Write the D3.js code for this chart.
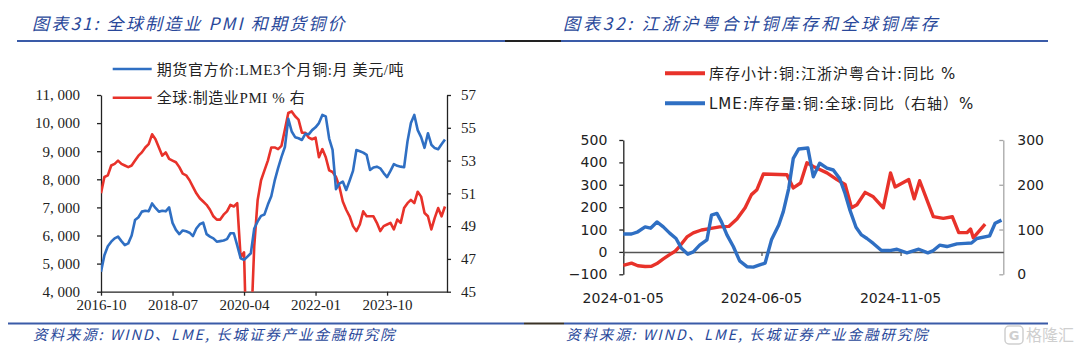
<!DOCTYPE html>
<html><head><meta charset="utf-8">
<script src="https://cdn.jsdelivr.net/npm/d3@7"></script>
<style>body{margin:0;background:#fff;} svg{display:block}</style>
</head><body><svg id="c" width="1080" height="359"></svg>
<script>
// ---------- Left chart data (monthly, index 0 = first month on axis) ----------
const leftTickLabels = ["2016-10","2018-07","2020-04","2022-01","2023-10"];
const leftTickIdx = [0,21,42,63,84];
const copperPrice = [
4710,5300,5620,5780,5900,5960,5800,5660,5720,6000,
6550,6650,6850,6880,6860,7140,6980,6850,6880,6860,
7000,6450,6200,6050,6180,6150,6100,5980,6250,6400,
6460,6050,5960,5900,5780,5800,5820,5870,6080,6080,
5650,5190,5130,5250,5370,6250,6500,6700,6750,7100,
7400,7950,8400,8800,9150,10150,9700,9500,9460,9400,
9620,9600,9750,9850,10000,10290,10240,9450,9050,7650,
7850,7920,7620,7950,8300,9040,9000,8950,8870,8330,
8420,8450,8390,8220,8080,8300,8540,8480,8450,8430,
9350,10000,10290,9750,9500,9120,9640,9230,9110,9070,
9250,9420];
const globalPMI = [
51.0,52.0,52.1,52.7,52.8,53.0,52.8,52.7,52.6,52.7,
53.0,53.3,53.5,53.8,54.0,54.6,54.3,53.8,53.3,53.5,
53.1,53.0,52.9,52.6,52.2,52.1,51.8,51.4,51.0,50.7,
50.5,50.3,50.0,49.6,49.4,49.4,49.7,49.9,50.3,50.2,
50.4,47.1,47.4,39.6,42.4,47.8,50.6,51.8,52.4,53.0,
53.8,53.8,53.7,53.9,54.9,55.9,56.0,55.7,55.5,54.7,
54.7,54.4,54.3,54.4,53.2,53.7,53.2,52.4,52.3,52.0,
51.4,50.5,50.0,49.6,49.0,48.7,49.1,49.9,49.6,49.6,
49.6,49.2,48.7,49.0,49.1,49.2,48.8,49.4,49.2,50.1,
50.4,50.6,50.4,51.1,50.8,49.8,49.6,48.8,49.5,50.1,
49.6,50.2];
const leftYTicks = [4000,5000,6000,7000,8000,9000,10000,11000];
const rightYTicks = [45,47,49,51,53,55,57];

// ---------- Right chart data ----------
const rightTickDates = ["2024-01-05","2024-06-05","2024-11-05"];
const redDates = ["2024-01-05","2024-01-14","2024-01-21","2024-01-29","2024-02-05","2024-02-11","2024-02-18","2024-02-25","2024-03-02","2024-03-07",
"2024-03-15","2024-03-22","2024-03-31","2024-04-09","2024-04-20","2024-04-30","2024-05-09","2024-05-18","2024-05-25","2024-05-31",
"2024-06-07","2024-07-03","2024-07-10","2024-07-18","2024-07-25","2024-08-01","2024-08-16","2024-08-27","2024-09-05","2024-09-12",
"2024-09-18","2024-09-27","2024-10-06","2024-10-17","2024-10-25","2024-10-30","2024-11-14","2024-11-20","2024-11-26","2024-12-11",
"2024-12-22","2025-01-01","2025-01-08","2025-01-17","2025-01-21","2025-01-24","2025-02-06"];
const redValues = [-60,-50,-62,-65,-64,-52,-31,-12,3,25,
67,85,98,104,112,114,147,197,256,278,
348,345,286,308,398,382,353,323,301,197,
211,266,246,197,353,290,323,237,318,158,
150,157,86,86,102,63,124];
const blueDates = ["2024-01-05","2024-01-14","2024-01-21","2024-01-29","2024-02-04","2024-02-11","2024-02-18","2024-02-25","2024-03-03","2024-03-09",
"2024-03-16","2024-03-22","2024-03-29","2024-04-06","2024-04-11","2024-04-17","2024-04-22","2024-04-28","2024-05-05","2024-05-12",
"2024-05-20","2024-05-27","2024-06-03","2024-06-09","2024-06-16","2024-06-24","2024-06-29","2024-07-05","2024-07-10","2024-07-16",
"2024-07-26","2024-08-01","2024-08-08","2024-08-16","2024-08-23","2024-08-30","2024-09-05","2024-09-10","2024-09-17","2024-09-23",
"2024-09-29","2024-10-06","2024-10-15","2024-10-24","2024-11-01","2024-11-12","2024-11-25","2024-12-05","2024-12-11","2024-12-18",
"2024-12-26","2025-01-06","2025-01-15","2025-01-22","2025-01-28","2025-02-11","2025-02-17","2025-02-24"];
const blueValues = [90,90,95,106,103,117,106,92,80,58,
45,50,65,77,132,136,117,88,62,30,
17,16,21,25,77,110,140,192,259,280,
282,218,248,237,233,214,180,145,105,88,
80,69,53,53,56,48,56,48,53,65,
62,68,69,70,80,86,114,121];
const rLeftTicks = [-100,0,100,200,300,400,500];
const rRightTicks = [0,100,200,300];

const RED = "#e8322a", BLUE = "#2f6fc3", TITLE = "#29489a";
const svg = d3.select("#c");

// ---------- Headers / footers ----------
svg.append("line").attr("x1",17).attr("x2",505).attr("y1",41).attr("y2",41).attr("stroke","#3a5ba8").attr("stroke-width",2);
svg.append("line").attr("x1",505).attr("x2",561).attr("y1",41).attr("y2",41).attr("stroke","#222").attr("stroke-width",2);
svg.append("line").attr("x1",561).attr("x2",1048).attr("y1",41).attr("y2",41).attr("stroke","#3a5ba8").attr("stroke-width",2);
svg.append("line").attr("x1",8).attr("x2",524).attr("y1",323.5).attr("y2",323.5).attr("stroke","#3a5ba8").attr("stroke-width",2);
svg.append("line").attr("x1",524).attr("x2",564).attr("y1",323.5).attr("y2",323.5).attr("stroke","#3a3226").attr("stroke-width",2);
svg.append("line").attr("x1",564).attr("x2",1048).attr("y1",323.5).attr("y2",323.5).attr("stroke","#3a5ba8").attr("stroke-width",2);

const titleFont = "'Noto Sans CJK SC', sans-serif";
svg.append("text").attr("x",32).attr("y",30).attr("font-family",titleFont).attr("font-size",17)
  .attr("font-style","italic").attr("letter-spacing",2.2).attr("fill",TITLE).text("图表31: 全球制造业 PMI 和期货铜价");
svg.append("text").attr("x",563).attr("y",30).attr("font-family",titleFont).attr("font-size",17)
  .attr("font-style","italic").attr("letter-spacing",2.9).attr("fill",TITLE).text("图表32: 江浙沪粤合计铜库存和全球铜库存");
svg.append("text").attr("x",33).attr("y",340).attr("font-family",titleFont).attr("font-size",14.5)
  .attr("font-style","italic").attr("letter-spacing",1.9).attr("fill",TITLE).text("资料来源: WIND、LME, 长城证券产业金融研究院");
svg.append("text").attr("x",566).attr("y",340).attr("font-family",titleFont).attr("font-size",14.5)
  .attr("font-style","italic").attr("letter-spacing",1.9).attr("fill",TITLE).text("资料来源: WIND、LME, 长城证券产业金融研究院");
// watermark
svg.append("rect").attr("x",1005).attr("y",326).attr("width",18).attr("height",18).attr("rx",4)
  .attr("fill","none").attr("stroke","#cfcfcf").attr("stroke-width",1.5);
svg.append("text").attr("x",1014).attr("y",340).attr("text-anchor","middle").attr("font-family","'DejaVu Sans'")
  .attr("font-size",13).attr("font-weight","bold").attr("fill","#cfcfcf").text("G");
svg.append("text").attr("x",1026).attr("y",341).attr("font-family",titleFont).attr("font-size",16)
  .attr("fill","#cfcfcf").text("格隆汇");

// ---------- Left chart ----------
const serif = "'Liberation Serif', 'Noto Sans CJK SC', serif";
const xL = d3.scaleLinear().domain([0,101.6]).range([101,447]);
const yL = d3.scaleLinear().domain([4000,11000]).range([291.7,95]);
const yR = d3.scaleLinear().domain([45,57]).range([291.7,95]);

const gL = svg.append("g");
function styleAxis(g, font, size){
  g.selectAll("path.domain").attr("stroke","#222").attr("stroke-width",1.3);
  g.selectAll(".tick line").attr("stroke","#222").attr("stroke-width",1.3);
  g.selectAll("text").attr("font-family",font).attr("font-size",size).attr("fill","#222");
}
const axL = gL.append("g").attr("transform","translate(101,0)")
  .call(d3.axisLeft(yL).tickValues(leftYTicks).tickSizeInner(4).tickSizeOuter(0).tickPadding(17)
  .tickFormat(d=>d3.format(",")(d).replace(",",", ")));
styleAxis(axL, serif, 15);
const axR = gL.append("g").attr("transform","translate(447,0)")
  .call(d3.axisRight(yR).tickValues(rightYTicks).tickSizeInner(4).tickSizeOuter(0).tickPadding(10));
styleAxis(axR, serif, 15);
const axB = gL.append("g").attr("transform","translate(0,291.7)")
  .call(d3.axisBottom(xL).tickValues(leftTickIdx).tickSizeInner(4).tickSizeOuter(0).tickPadding(4)
  .tickFormat((d,i)=>leftTickLabels[i]));
styleAxis(axB, serif, 15);

svg.append("clipPath").attr("id","clipL").append("rect").attr("x",101).attr("y",90).attr("width",346).attr("height",201.7);
const lineCu = d3.line().x((d,i)=>xL(i)).y(d=>yL(d));
const linePMI = d3.line().x((d,i)=>xL(i)).y(d=>yR(d));
gL.append("path").attr("d",linePMI(globalPMI)).attr("fill","none").attr("stroke",RED).attr("stroke-width",2.6)
  .attr("stroke-linejoin","round").attr("clip-path","url(#clipL)");
gL.append("path").attr("d",lineCu(copperPrice)).attr("fill","none").attr("stroke",BLUE).attr("stroke-width",2.6)
  .attr("stroke-linejoin","round").attr("clip-path","url(#clipL)");

// left legend
const legL = [{c:BLUE,t:"期货官方价:LME3个月铜:月 美元/吨",y:69},{c:RED,t:"全球:制造业PMI % 右",y:97.7}];
legL.forEach(l=>{
  svg.append("line").attr("x1",112.7).attr("x2",151.7).attr("y1",l.y).attr("y2",l.y).attr("stroke",l.c).attr("stroke-width",2.6);
  svg.append("text").attr("x",156.7).attr("y",l.y+5.5).attr("font-family",serif).attr("font-size",15)
    .attr("letter-spacing",0.6).attr("fill","#222").text(l.t);
});

// ---------- Right chart ----------
const sans = "'DejaVu Sans', 'Noto Sans CJK SC', sans-serif";
const parse = d3.timeParse("%Y-%m-%d");
const xR = d3.scaleTime().domain([parse("2024-01-05"), parse("2025-02-26")]).range([623.3,1003.3]);
const yRL = d3.scaleLinear().domain([-100,500]).range([274.3,140]);
const yRR = d3.scaleLinear().domain([0,300]).range([274.3,140]);
const gR = svg.append("g");

const axRL = gR.append("g").attr("transform","translate(623.3,0)")
  .call(d3.axisLeft(yRL).tickValues(rLeftTicks).tickSizeInner(4).tickSizeOuter(0).tickPadding(12));
styleAxis(axRL, sans, 14);
const axRR = gR.append("g").attr("transform","translate(1003.3,0)")
  .call(d3.axisRight(yRR).tickValues(rRightTicks).tickSizeInner(-4).tickSizeOuter(0).tickPadding(14));
axRR.selectAll("path.domain").attr("stroke","#a6a6a6").attr("stroke-width",1.3);
axRR.selectAll(".tick line").attr("stroke","#a6a6a6").attr("stroke-width",1.3);
axRR.selectAll("text").attr("font-family",sans).attr("font-size",14).attr("fill","#222");
// zero baseline with date ticks
const axZ = gR.append("g").attr("transform",`translate(0,${yRL(0)})`)
  .call(d3.axisBottom(xR).tickValues(rightTickDates.map(parse)).tickSizeInner(4).tickSizeOuter(0).tickFormat(""));
axZ.selectAll("path.domain").attr("stroke","#555").attr("stroke-width",1.5);
axZ.selectAll(".tick line").attr("stroke","#555").attr("stroke-width",1.3);
gR.selectAll("text.xlab").data(rightTickDates).enter().append("text").attr("class","xlab")
  .attr("x",d=>xR(parse(d))).attr("y",302.5).attr("text-anchor","middle")
  .attr("font-family",sans).attr("font-size",14).attr("fill","#222").text(d=>d);

const redData = redDates.map((d,i)=>({d:parse(d),v:redValues[i]}));
const blueData = blueDates.map((d,i)=>({d:parse(d),v:blueValues[i]}));
gR.append("path").attr("d",d3.line().x(p=>xR(p.d)).y(p=>yRL(p.v))(redData))
  .attr("fill","none").attr("stroke",RED).attr("stroke-width",3.4).attr("stroke-linejoin","round");
gR.append("path").attr("d",d3.line().x(p=>xR(p.d)).y(p=>yRR(p.v))(blueData))
  .attr("fill","none").attr("stroke",BLUE).attr("stroke-width",3.4).attr("stroke-linejoin","round");

const legR = [{c:RED,t:"库存小计:铜:江浙沪粤合计:同比 %",y:73.3},{c:BLUE,t:"LME:库存量:铜:全球:同比（右轴）%",y:103.3}];
legR.forEach(l=>{
  svg.append("line").attr("x1",665).attr("x2",705).attr("y1",l.y).attr("y2",l.y).attr("stroke",l.c).attr("stroke-width",4);
  svg.append("text").attr("x",709).attr("y",l.y+5.5).attr("font-family",sans).attr("font-size",15)
    .attr("letter-spacing",1).attr("fill","#222").text(l.t);
});
</script></body></html>
